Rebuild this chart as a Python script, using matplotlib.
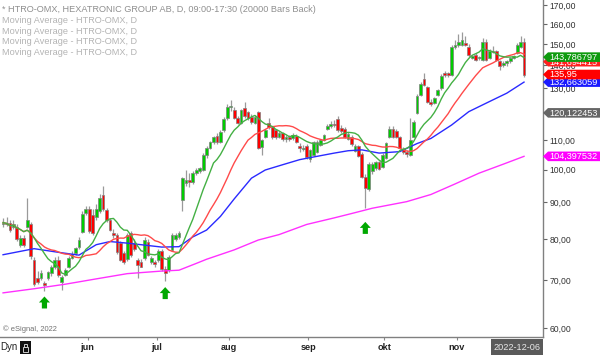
import numpy as np
import pandas as pd
import matplotlib
matplotlib.use("Agg")
import matplotlib.pyplot as plt
from matplotlib.patches import Polygon, Rectangle

# ---------------- data ----------------
opens = [84.0, 84.3, 84.3, 83.0, 83.0, 78.5, 80.3, 83.2, 83.9, 74.8,
         70.4, 70.6, 69.4, 70.5, 71.6, 73.0, 74.8, 69.6, 71.3, 73.0,
         75.3, 76.5, 77.9, 81.8, 87.0, 88.2, 86.4, 85.8, 87.5, 92.2,
         87.8, 85.0, 81.5, 80.9, 78.9, 76.4, 75.0, 81.4, 78.9, 74.7,
         74.2, 75.1, 79.2, 74.2, 74.2, 74.7, 76.8, 72.6, 72.3, 77.2,
         80.0, 80.5, 90.7, 95.8, 96.6, 96.1, 98.9, 99.5, 99.9, 104.9,
         107.3, 109.2, 111.6, 109.5, 113.5, 118.0, 122.5, 121.2, 118.2, 116.4,
         122.0, 120.3, 118.5, 116.2, 120.3, 107.5, 111.2, 116.4, 114.6, 113.6,
         111.2, 112.5, 110.5, 111.0, 110.6, 111.5, 107.8, 107.0, 107.8, 103.5,
         104.9, 106.0, 108.2, 110.0, 114.0, 115.2, 115.8, 117.9, 114.5, 114.2,
         110.5, 111.2, 106.3, 107.8, 105.2, 97.6, 94.0, 99.5, 100.5, 102.5,
         100.8, 103.8, 111.2, 114.0, 113.4, 111.0, 106.8, 105.8, 105.0, 111.3,
         120.0, 127.2, 134.0, 130.5, 124.5, 124.2, 127.3, 130.1, 136.6, 136.4,
         135.8, 148.8, 149.6, 149.6, 150.5, 148.8, 143.4, 144.9, 143.2, 142.6,
         151.1, 143.4, 146.5, 146.5, 141.8, 140.3, 141.1, 141.8, 143.4, 145.7,
         148.8, 151.1]
highs = [85.5, 85.8, 85.0, 85.0, 83.8, 81.0, 81.0, 91.2, 84.5, 75.4,
         72.0, 72.3, 69.8, 72.0, 73.5, 75.5, 75.6, 71.2, 72.8, 75.8,
         76.8, 78.0, 80.5, 87.5, 89.0, 89.0, 88.0, 89.5, 92.5, 95.0,
         88.5, 85.5, 82.5, 81.5, 79.5, 77.0, 81.5, 82.0, 80.0, 75.3,
         75.0, 80.5, 80.0, 75.6, 74.8, 77.5, 77.5, 73.2, 76.0, 81.5,
         81.5, 82.0, 97.8, 100.0, 99.0, 99.5, 100.5, 101.0, 105.5, 108.0,
         109.8, 111.5, 112.5, 113.5, 118.5, 123.5, 125.2, 122.5, 119.0, 121.8,
         124.5, 121.0, 119.5, 119.2, 121.0, 110.5, 114.2, 118.0, 115.3, 114.2,
         113.2, 113.0, 112.0, 112.0, 112.5, 112.2, 109.0, 108.2, 108.5, 107.0,
         109.8, 110.0, 110.5, 112.2, 116.0, 117.0, 117.5, 118.8, 115.5, 114.8,
         112.8, 111.8, 108.5, 108.3, 105.8, 98.5, 102.5, 102.5, 103.0, 103.0,
         105.5, 109.5, 115.0, 115.0, 114.0, 111.5, 107.5, 106.5, 118.0, 117.5,
         127.5, 132.5, 136.4, 131.0, 125.5, 126.5, 129.8, 136.0, 137.5, 137.2,
         149.5, 152.0, 155.0, 155.9, 154.0, 150.0, 145.0, 145.5, 144.5, 153.0,
         152.5, 147.5, 149.0, 147.0, 142.5, 142.0, 142.3, 143.8, 145.0, 150.5,
         153.8, 153.0]
lows = [83.0, 83.3, 81.8, 82.6, 79.5, 78.0, 78.0, 82.8, 75.0, 68.8,
        69.2, 70.0, 67.5, 70.0, 71.0, 72.5, 70.8, 67.8, 71.0, 72.8,
        75.0, 76.0, 77.5, 81.5, 86.5, 81.5, 81.0, 85.0, 87.0, 87.5,
        84.5, 82.0, 80.3, 76.2, 74.5, 73.8, 74.5, 75.5, 77.0, 70.4,
        73.0, 74.6, 75.6, 73.8, 73.0, 74.2, 72.2, 69.8, 71.8, 76.8,
        79.5, 80.0, 87.5, 94.8, 94.6, 95.5, 98.2, 99.0, 99.5, 104.0,
        106.8, 108.6, 108.8, 109.0, 113.0, 117.5, 121.0, 117.8, 115.8, 116.0,
        118.3, 117.5, 116.0, 115.8, 106.8, 104.9, 110.8, 114.0, 110.5, 110.5,
        110.8, 109.8, 109.5, 109.8, 110.0, 109.0, 106.0, 106.3, 103.6, 102.5,
        104.5, 105.5, 107.8, 109.6, 113.5, 114.5, 114.8, 113.0, 112.5, 110.8,
        110.0, 108.0, 106.0, 104.2, 97.2, 88.4, 93.5, 98.5, 100.0, 99.8,
        100.5, 103.5, 110.8, 110.8, 110.6, 106.8, 105.2, 104.3, 104.5, 111.0,
        119.5, 126.8, 131.0, 124.0, 123.0, 123.8, 126.8, 129.5, 135.0, 135.0,
        135.2, 147.8, 148.8, 149.0, 149.0, 144.0, 142.8, 142.0, 142.5, 142.2,
        142.0, 143.0, 145.5, 142.0, 138.0, 139.2, 139.8, 141.2, 142.8, 145.2,
        148.2, 134.7]
closes = [84.3, 83.9, 82.2, 84.0, 80.0, 80.3, 78.4, 85.0, 75.6, 69.2,
          69.6, 71.6, 68.9, 71.8, 73.0, 74.8, 71.3, 70.8, 72.3, 75.3,
          76.3, 77.7, 79.7, 86.8, 88.2, 82.0, 81.5, 88.2, 91.3, 88.2,
          85.0, 82.3, 80.9, 76.6, 74.8, 74.2, 80.9, 75.9, 77.5, 73.6,
          73.1, 79.7, 75.9, 75.1, 73.8, 76.8, 72.6, 71.6, 75.5, 80.9,
          80.9, 81.5, 97.5, 96.6, 96.1, 98.9, 99.9, 100.4, 104.9, 107.3,
          109.2, 111.0, 109.2, 113.0, 117.9, 122.6, 122.9, 118.2, 116.4, 121.2,
          118.8, 118.2, 116.5, 118.6, 107.3, 110.0, 113.6, 114.6, 111.0, 111.0,
          112.5, 110.3, 111.0, 110.5, 111.8, 109.4, 107.3, 107.3, 104.1, 106.5,
          109.2, 109.5, 110.0, 111.8, 115.2, 115.8, 115.5, 113.5, 113.2, 111.2,
          112.3, 108.5, 107.8, 104.6, 97.6, 94.2, 101.7, 101.8, 102.5, 100.3,
          104.8, 109.0, 114.1, 111.3, 111.0, 107.3, 106.0, 105.2, 110.0, 116.6,
          127.0, 132.0, 131.4, 124.5, 123.8, 125.9, 129.3, 135.5, 135.8, 135.6,
          148.8, 149.5, 151.1, 151.9, 149.6, 144.9, 144.1, 142.6, 143.8, 151.1,
          142.6, 146.5, 146.0, 142.6, 139.6, 141.1, 141.8, 143.4, 144.5, 149.6,
          151.1, 135.95]

# slow averages at a few bars
blue_ma_bars = [0, 9, 16, 22, 27, 31, 36, 41, 46, 51, 55, 59, 63, 67, 72, 76,
                81, 86, 91, 96, 100, 104, 109, 115, 120, 124, 130, 135, 141, 146, 151]
blue_ma_vals = [76.0, 77.5, 76.6, 75.9, 78.5, 79.3, 78.9, 78.4, 77.9, 78.0, 80.5,
                82.3, 86.0, 91.0, 97.3, 99.9, 101.6, 103.3, 104.4, 105.5, 106.3,
                106.6, 105.5, 106.0, 108.8, 110.6, 115.5, 120.6, 124.6, 128.0, 132.66]
magenta_ma_bars = [0, 9, 18, 27, 36, 46, 51, 56, 59, 67, 74, 80, 88, 96, 101,
                   107, 117, 124, 131, 138, 145, 151]
magenta_ma_vals = [67.2, 68.1, 69.1, 70.3, 71.5, 72.1, 72.3, 73.9, 74.9, 77.2, 79.7,
                   81.1, 83.8, 85.6, 86.8, 88.3, 90.2, 92.3, 95.5, 98.9, 101.8, 104.4]

signal_bars = [12, 47, 105]

tag_values = [143.786797, 141.694415, 135.95, 132.663059, 120.122453, 104.397532]
tag_decimals = [6, 6, 2, 6, 6, 6]
y_ticks = [60, 70, 80, 90, 100, 110, 120, 130, 140, 150, 160, 170]
month_labels = ["jun", "jul", "aug", "sep", "okt", "nov"]
holidays = ["2022-05-26", "2022-06-06", "2022-06-24"]
legend_lines = ["* HTRO-OMX, HEXATRONIC GROUP AB, D, 09:00-17:30 (20000 Bars Back)",
                "Moving Average - HTRO-OMX, D", "Moving Average - HTRO-OMX, D",
                "Moving Average - HTRO-OMX, D", "Moving Average - HTRO-OMX, D"]
cursor_date = "2022-12-06"

# ---------------- styling ----------------
FONT = ["Liberation Sans", "DejaVu Sans"]
plt.rcParams["font.family"] = FONT
W, H = 600, 355
C_UP, C_DN, C_EDGE, C_WICK = "#00cc00", "#ff0000", "#808080", "#9a9a9a"
tag_colors = ["#0e9a0e", "#ff2020", "#ff0000", "#1a1aff", "#666666", "#ff00ff"]
tag_z = [9, 7, 8, 6, 5, 5]

n = len(closes)
idx = np.arange(n)
o, h, l, c = map(np.asarray, (opens, highs, lows, closes))
dates = pd.bdate_range("2022-04-27", periods=n, freq="C", holidays=holidays)
month_idx = [int(np.argmax(dates.month == m)) for m in range(6, 12)]

green_ma = pd.Series(c).rolling(10, min_periods=1).mean()
red_ma = pd.Series(c).rolling(20, min_periods=1).mean()

fig = plt.figure(figsize=(W / 100, H / 100), dpi=100)
fig.patch.set_facecolor("white")
ax = fig.add_axes([0, 18 / H, 543 / W, 337 / H])
ax.set_facecolor("white")
ax.set_yscale("log")
ax.set_ylim(58.28, 172.9)
ax.set_xlim(-0.884, 156.5)

# candles
ax.vlines(idx, l, h, color=C_WICK, lw=0.9, zorder=1)
up = c > o
dn = c < o
eq = ~(up | dn)
body_lo = np.minimum(o, c)
body_hi = np.maximum(o, c)
ax.bar(idx[up], (body_hi - body_lo)[up], bottom=body_lo[up], width=0.8,
       color=C_UP, edgecolor=C_EDGE, linewidth=0.5, zorder=2)
ax.bar(idx[dn], (body_hi - body_lo)[dn], bottom=body_lo[dn], width=0.8,
       color=C_DN, edgecolor=C_EDGE, linewidth=0.5, zorder=2)
ax.hlines(c[eq], idx[eq] - 0.4, idx[eq] + 0.4, color=C_EDGE, lw=1, zorder=2)

# moving averages
ax.plot(magenta_ma_bars, magenta_ma_vals, color="#ff30ff", lw=1.0, zorder=3)
ax.plot(blue_ma_bars, blue_ma_vals, color="#2a2aff", lw=1.0, zorder=3)
ax.plot(idx, red_ma, color="#ff4a4a", lw=1.0, zorder=3)
ax.plot(idx, green_ma, color="#44b044", lw=1.0, zorder=3)

# axes styling
for s in ("top", "left"):
    ax.spines[s].set_visible(False)
for s in ("right", "bottom"):
    ax.spines[s].set_color("#808080")
    ax.spines[s].set_linewidth(1.0)
ax.yaxis.tick_right()
ax.yaxis.set_minor_locator(matplotlib.ticker.NullLocator())
ax.set_yticks(y_ticks)
ax.tick_params(axis="y", which="major", direction="out", length=3, width=0.8,
               color="#666666", pad=1.5, labelsize=6.2, labelcolor="#333333")
ax.set_xticks([m + 0.5 for m in month_idx])
ax.set_xticklabels(month_labels, fontweight="bold")
ax.tick_params(axis="x", direction="out", length=2, width=0.8, color="#888888",
               pad=2.5, labelsize=6.6, labelcolor="#222222")

fig.canvas.draw()


def ypx(v):
    return ax.transData.transform((0, v))[1]


def xpx(i):
    return ax.transData.transform((i, 100))[0]


# y tick labels: those fully hidden under a price tag in the reference are left out
tag_px = [ypx(v) for v in tag_values]
ylabels = []
for v in y_ticks:
    covered = any(abs(ypx(v) - t) < 2.5 for t in tag_px)
    ylabels.append("" if covered else f"{v:.2f}".replace(".", ","))
ax.set_yticklabels(ylabels)

# price tags on the right
for val, dec, col, z, yc in zip(tag_values, tag_decimals, tag_colors, tag_z, tag_px):
    hh = 4.8
    pts = [(543, yc), (548, yc + hh), (W, yc + hh), (W, yc - hh), (548, yc - hh)]
    fig.add_artist(Polygon([(x / W, y / H) for x, y in pts], closed=True,
                           facecolor=col, edgecolor="none",
                           transform=fig.transFigure, zorder=z))
    txt = f"{val:.{dec}f}".replace(".", ",")
    fig.text(549 / W, (yc - 0.3) / H, txt, color="white", fontsize=6.6,
             va="center", ha="left", zorder=z + 0.1)

# signal arrows
arrow_gap = [5, 6, 14]
shape = [(0, 0), (-5.5, 6), (-2.6, 6), (-2.6, 12), (2.6, 12), (2.6, 6), (5.5, 6)]
for b, g in zip(signal_bars, arrow_gap):
    tx = xpx(b)
    ty = ypx(l[b]) - g
    fig.add_artist(Polygon([((tx + dx) / W, (ty - dy) / H) for dx, dy in shape],
                           closed=True, facecolor="#00a800", edgecolor="none",
                           transform=fig.transFigure, zorder=4))

# legend lines top-left
for k, line in enumerate(legend_lines):
    fig.text(2 / W, 1 - (10.0 + 10.6 * k) / H, line, fontsize=6.6, va="center",
             ha="left", color="#8f8f8f" if k == 0 else "#b4b4b4")

fig.text(3 / W, 1 - 329 / H, "\u00a9 eSignal, 2022", fontsize=5.4, va="center",
         ha="left", color="#707070")

# bottom-left controls
fig.text(0 / W, 1 - 347 / H, "Dyn", fontsize=7, va="center", ha="left", color="#222222")
fig.add_artist(Rectangle((20 / W, 1 - 354 / H), 11 / W, 13 / H, facecolor="#111111",
                         edgecolor="none", transform=fig.transFigure))
fig.add_artist(Rectangle((23 / W, 1 - 351.5 / H), 5 / W, 4.5 / H, facecolor="none",
                         edgecolor="#cccccc", lw=0.7, transform=fig.transFigure))
fig.add_artist(Rectangle((24 / W, 1 - 347 / H), 3 / W, 3 / H, facecolor="none",
                         edgecolor="#cccccc", lw=0.7, transform=fig.transFigure))

# cursor date box
fig.add_artist(Rectangle((491 / W, 0), 52 / W, 16 / H, facecolor="#5a5a5a",
                         edgecolor="none", transform=fig.transFigure, zorder=5))
fig.text(517 / W, 8 / H, cursor_date, fontsize=6.6, va="center", ha="center",
         color="#e8e8e8", zorder=6)

fig.savefig("out.png", dpi=100)
